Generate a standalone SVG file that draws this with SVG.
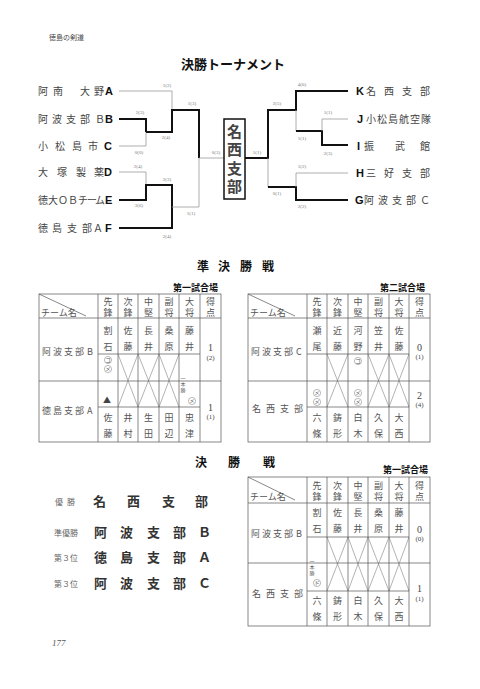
<svg xmlns="http://www.w3.org/2000/svg" width="480" height="689" viewBox="0 0 480 689">
<style>
.j{font-family:"Noto Sans CJK JP","Noto Sans",sans-serif;fill:#444;}
.tm{font-size:10px;}
.ltr{font-family:"Liberation Sans",Arial,sans-serif;font-weight:bold;font-size:11px;fill:#111;}
.lbl{font-family:"Liberation Serif",serif;font-size:5px;fill:#777;text-anchor:middle;}
.thk{stroke:#111;stroke-width:2;fill:none;}
.thn{stroke:#999;stroke-width:0.8;fill:none;}
.tl{stroke:#555;stroke-width:0.7;fill:none;}
.xl{stroke:#666;stroke-width:0.5;fill:none;}
.v{writing-mode:vertical-rl;font-size:9px;fill:#555;}
.hd{letter-spacing:2.3px;}
.nm{letter-spacing:7.5px;}
.ip{writing-mode:vertical-rl;font-size:5px;fill:#555;letter-spacing:0.8px;}
.sc{font-family:"Liberation Serif",serif;font-size:10px;text-anchor:middle;fill:#444;}
.scs{font-family:"Liberation Serif",serif;font-size:7px;text-anchor:middle;fill:#444;}
.h{font-weight:bold;fill:#111;}
.mk{font-size:5.5px;text-anchor:middle;fill:#555;}
.cir{stroke:#777;stroke-width:0.5;fill:none;}
.rk{font-size:8px;fill:#666;}
.rn{font-size:13px;font-weight:bold;fill:#333;}
.tn{font-size:9px;fill:#555;}
</style>

<text class="j" x="49" y="40" font-size="7" fill="#555">徳島の剣道</text>
<text class="j h" x="233" y="69" font-size="13" text-anchor="middle">決勝トーナメント</text>

<g id="connectors">
<path class="thn" d="M119,91 H172 V110"/>
<path class="thk" d="M119,119 H146 V132"/>
<path class="thn" d="M119,146 H146 V132"/>
<path class="thk" d="M146,132 H172 V110 H199 V158"/>
<path class="thn" d="M119,172 H146 V185"/>
<path class="thk" d="M119,200 H146 V185 H172 V207"/>
<path class="thk" d="M119,228 H172 V207"/>
<path class="thn" d="M172,207 H199 V158 H224"/>
<path class="thk" d="M245,158 H268 V110 H296 V91 H348"/>
<path class="thn" d="M296,110 V131"/>
<path class="thk" d="M296,131 H322 V145 H348"/>
<path class="thn" d="M322,131 V119 H348"/>
<path class="thn" d="M268,158 V187"/>
<path class="thk" d="M268,187 H296 V200 H348"/>
<path class="thn" d="M296,187 V173 H348"/>
</g>

<g id="scores">
<text class="lbl" x="167" y="87">1(2)</text>
<text class="lbl" x="140" y="114">2(3)</text>
<text class="lbl" x="166" y="139">2(4)</text>
<text class="lbl" x="192" y="105">1(3)</text>
<text class="lbl" x="139" y="154">0(0)</text>
<text class="lbl" x="138" y="168">2(4)</text>
<text class="lbl" x="167" y="181">2(3)</text>
<text class="lbl" x="139" y="207">3(6)</text>
<text class="lbl" x="191" y="215">1(1)</text>
<text class="lbl" x="167" y="238">2(4)</text>
<text class="lbl" x="216" y="154">0(3)</text>
<text class="lbl" x="257" y="154">1(1)</text>
<text class="lbl" x="277" y="105">2(5)</text>
<text class="lbl" x="302" y="86">4(6)</text>
<text class="lbl" x="328" y="114">1(1)</text>
<text class="lbl" x="302" y="140">1(1)</text>
<text class="lbl" x="328" y="155">2(3)</text>
<text class="lbl" x="302" y="168">1(2)</text>
<text class="lbl" x="277" y="195">0(1)</text>
<text class="lbl" x="302" y="208">2(2)</text>
</g>

<g id="teamA"><text class="j tm" x="38 53 80 94" y="95">阿南大野</text><text class="ltr" x="105" y="95">A</text></g>
<g id="teamB"><text class="j tm" x="38 52 66 80 95" y="123">阿波支部Ｂ</text><text class="ltr" x="105" y="123">B</text></g>
<g id="teamC"><text class="j tm" x="38 55 72 88" y="150">小松島市</text><text class="ltr" x="104" y="150">C</text></g>
<g id="teamD"><text class="j tm" x="38 57 76 94" y="176">大塚製薬</text><text class="ltr" x="104" y="176">D</text></g>
<g id="teamE"><text class="j tm" x="38 48 58 68 78 87 95" y="204">徳大ＯＢチーム</text><text class="ltr" x="105" y="204">E</text></g>
<g id="teamF"><text class="j tm" x="38 52 67 82 93" y="232">徳島支部Ａ</text><text class="ltr" x="105" y="232">F</text></g>

<g id="champion">
<rect x="224" y="119" width="21" height="80" fill="#fff" stroke="#111" stroke-width="1.5"/>
<text class="j" x="234.5" y="124" font-size="15" font-weight="bold" fill="#222" letter-spacing="3.3" style="writing-mode:vertical-rl">名西支部</text>
</g>

<g id="teamK"><text class="ltr" x="356" y="95">K</text><text class="j tm" x="366 384 402 420" y="95">名西支部</text></g>
<g id="teamJ"><text class="ltr" x="357" y="123">J</text><text class="j tm" x="366 377 388 399 410 421" y="123">小松島航空隊</text></g>
<g id="teamI"><text class="ltr" x="357" y="150">I</text><text class="j tm" x="364 395 420" y="150">振武館</text></g>
<g id="teamH"><text class="ltr" x="356" y="177">H</text><text class="j tm" x="366 384 402 420" y="177">三好支部</text></g>
<g id="teamG"><text class="ltr" x="355" y="204">G</text><text class="j tm" x="364 378 392 406 420" y="204">阿波支部Ｃ</text></g>

<text class="j h" x="197 218 240 262" y="271" font-size="12">準決勝戦</text>

<!-- Table 1 -->
<g id="table1">
<text class="j h" x="173" y="291" font-size="9">第一試合場</text>
<rect class="tl" x="39" y="294" width="182" height="148"/>
<path class="tl" d="M98,294 V442 M118,294 V442 M138,294 V442 M159,294 V442 M179,294 V442 M200,294 V442 M39,318 H221 M98,354 H200 M39,381 H221 M98,407 H200"/>
<path class="tl" d="M39,294 L86,316"/>
<text class="j tn" x="41" y="316">チーム名</text>
<g class="j v hd">
<text x="108" y="297">先鋒</text><text x="128" y="297">次鋒</text><text x="148.5" y="297">中堅</text>
<text x="169" y="297">副将</text><text x="189.5" y="297">大将</text><text x="210.5" y="297">得点</text>
</g>
<g class="j v nm">
<text x="108" y="326">割石</text><text x="128" y="326">佐藤</text><text x="148.5" y="326">長井</text>
<text x="169" y="326">桑原</text><text x="189.5" y="326">藤井</text>
<text x="108" y="413">佐藤</text><text x="128" y="413">井村</text><text x="148.5" y="413">生田</text>
<text x="169" y="413">田辺</text><text x="189.5" y="413">忠津</text>
</g>
<text class="j tn" x="42 53 64 75 87" y="355">阿波支部B</text>
<text class="j tn" x="42 53 64 75 87" y="414">徳島支部A</text>
<text class="sc" x="210.5" y="351">1</text><text class="scs" x="210.5" y="360">(2)</text>
<text class="sc" x="210.5" y="411">1</text><text class="scs" x="210.5" y="419">(1)</text>
<path class="xl" d="M118,354 L138,407 M138,354 L118,407 M138,354 L159,407 M159,354 L138,407 M159,354 L179,407 M179,354 L159,407"/>
<circle class="cir" cx="108" cy="360" r="3.6"/><text class="j mk" x="108" y="362">コ</text>
<circle class="cir" cx="108" cy="369" r="3.6"/><text class="j mk" x="108" y="371">メ</text>
<text class="j" x="107" y="403" font-size="8" text-anchor="middle" fill="#111">▲</text>
<text class="j ip" x="183" y="376">一本勝</text>
<circle class="cir" cx="192" cy="401" r="3.6"/><text class="j mk" x="192" y="403">メ</text>
</g>

<!-- Table 2 -->
<g id="table2">
<text class="j h" x="380" y="291" font-size="9">第二試合場</text>
<rect class="tl" x="248" y="294" width="182" height="148"/>
<path class="tl" d="M307,294 V442 M327,294 V442 M348,294 V442 M368,294 V442 M389,294 V442 M409,294 V442 M248,318 H430 M307,354 H409 M248,381 H430 M307,407 H409"/>
<path class="tl" d="M248,294 L295,316"/>
<text class="j tn" x="250" y="316">チーム名</text>
<g class="j v hd">
<text x="317" y="297">先鋒</text><text x="337.5" y="297">次鋒</text><text x="358" y="297">中堅</text>
<text x="378.5" y="297">副将</text><text x="399" y="297">大将</text><text x="419.5" y="297">得点</text>
</g>
<g class="j v nm">
<text x="317" y="326">瀬尾</text><text x="337.5" y="326">近藤</text><text x="358" y="326">河野</text>
<text x="378.5" y="326">笠井</text><text x="399" y="326">佐藤</text>
<text x="317" y="413">六條</text><text x="337.5" y="413">鋳形</text><text x="358" y="413">白木</text>
<text x="378.5" y="413">久保</text><text x="399" y="413">大西</text>
</g>
<text class="j tn" x="251 262 273 284 296" y="355">阿波支部C</text>
<text class="j tn" x="252 266 280 294" y="412">名西支部</text>
<text class="sc" x="419.5" y="351">0</text><text class="scs" x="419.5" y="359">(1)</text>
<text class="sc" x="419.5" y="399">2</text><text class="scs" x="419.5" y="407">(4)</text>
<path class="xl" d="M327,354 L348,407 M348,354 L327,407 M368,354 L389,407 M389,354 L368,407 M389,354 L409,407 M409,354 L389,407"/>
<circle class="cir" cx="358" cy="361" r="3.6"/><text class="j mk" x="358" y="363">コ</text>
<circle class="cir" cx="317" cy="393" r="3.6"/><text class="j mk" x="317" y="395">メ</text>
<circle class="cir" cx="317" cy="402" r="3.6"/><text class="j mk" x="317" y="404">メ</text>
<circle class="cir" cx="358" cy="393" r="3.6"/><text class="j mk" x="358" y="395">メ</text>
<circle class="cir" cx="358" cy="402" r="3.6"/><text class="j mk" x="358" y="404">メ</text>
</g>

<text class="j h" x="195 228 263" y="467" font-size="12">決勝戦</text>

<g id="ranking">
<text class="j rk" x="55 67" y="505">優勝</text>
<text class="j rn" x="93 127 162 195" y="506">名西支部</text>
<text class="j rk" x="54 62 70" y="536">準優勝</text>
<text class="j rn" x="94 120 147 173 198" y="537">阿波支部Ｂ</text>
<text class="j rk" x="54 62 70" y="561">第３位</text>
<text class="j rn" x="94 120 147 173 198" y="562">徳島支部Ａ</text>
<text class="j rk" x="54 62 70" y="587">第３位</text>
<text class="j rn" x="94 120 147 173 198" y="588">阿波支部Ｃ</text>
</g>

<!-- Final table -->
<g id="table3">
<text class="j h" x="383" y="473" font-size="9">第一試合場</text>
<rect class="tl" x="248" y="477" width="182" height="149"/>
<path class="tl" d="M307,477 V626 M327,477 V626 M348,477 V626 M368,477 V626 M389,477 V626 M409,477 V626 M248,503 H430 M307,537 H409 M248,563 H430 M307,591 H409"/>
<path class="tl" d="M248,477 L295,500"/>
<text class="j tn" x="250" y="500">チーム名</text>
<g class="j v hd">
<text x="317" y="481">先鋒</text><text x="337.5" y="481">次鋒</text><text x="358" y="481">中堅</text>
<text x="378.5" y="481">副将</text><text x="399" y="481">大将</text><text x="419.5" y="481">得点</text>
</g>
<g class="j v nm">
<text x="317" y="508">割石</text><text x="337.5" y="508">佐藤</text><text x="358" y="508">長井</text>
<text x="378.5" y="508">桑原</text><text x="399" y="508">藤井</text>
<text x="317" y="596">六條</text><text x="337.5" y="596">鋳形</text><text x="358" y="596">白木</text>
<text x="378.5" y="596">久保</text><text x="399" y="596">大西</text>
</g>
<text class="j tn" x="251 262 273 284 296" y="537">阿波支部B</text>
<text class="j tn" x="252 266 280 294" y="597">名西支部</text>
<text class="sc" x="419.5" y="533">0</text><text class="scs" x="419.5" y="541">(0)</text>
<text class="sc" x="419.5" y="592">1</text><text class="scs" x="419.5" y="601">(1)</text>
<path class="xl" d="M327,537 L348,591 M348,537 L327,591 M348,537 L368,591 M368,537 L348,591 M368,537 L389,591 M389,537 L368,591 M389,537 L409,591 M409,537 L389,591"/>
<text class="j ip" x="312" y="559">一本勝</text>
<circle class="cir" cx="317" cy="583" r="3.6"/><text class="j mk" x="317" y="585">ド</text>
</g>

<text x="52" y="646" font-family="Liberation Serif, serif" font-style="italic" font-size="9" fill="#555">177</text>
</svg>
